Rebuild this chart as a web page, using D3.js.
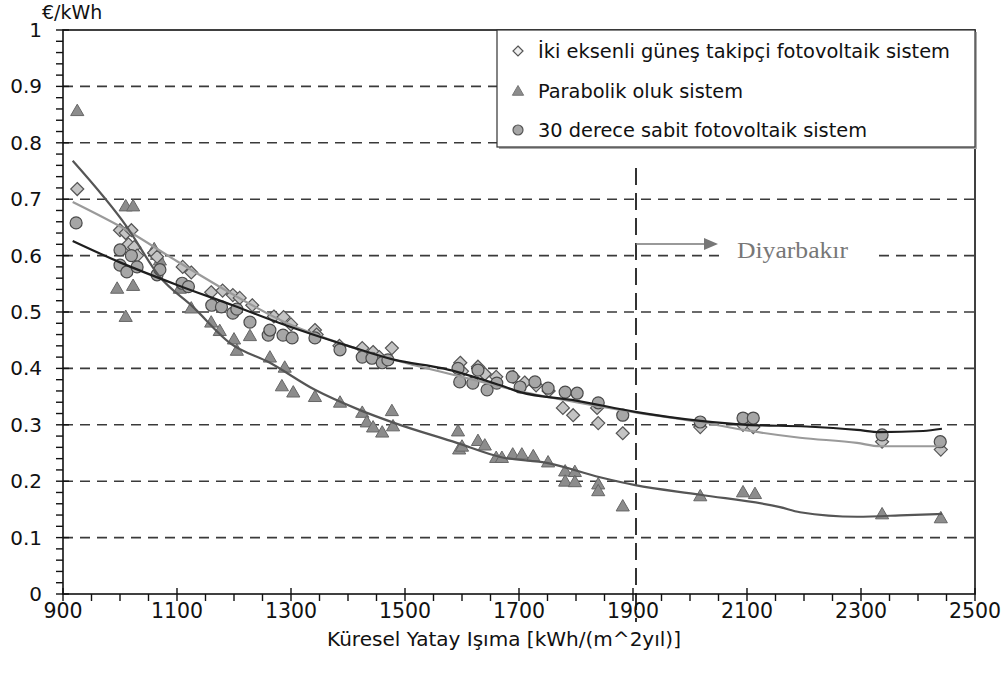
<!DOCTYPE html>
<html>
<head>
<meta charset="utf-8">
<script src="https://cdn.jsdelivr.net/npm/d3@7"></script>
<style>
  html, body { margin: 0; padding: 0; background: #fff; }
  svg { display: block; }
  text { font-family: "DejaVu Sans", Verdana, sans-serif; }
</style>
</head>
<body>
<svg id="chart" width="1006" height="686"></svg>
<script>
// ---------- DATA ----------
const seriesNames = [
  "İki eksenli güneş takipçi fotovoltaik sistem",
  "Parabolik oluk sistem",
  "30 derece sabit fotovoltaik sistem"
];
const xTicks = [900, 1100, 1300, 1500, 1700, 1900, 2100, 2300, 2500];
const yTicks = [0, 0.1, 0.2, 0.3, 0.4, 0.5, 0.6, 0.7, 0.8, 0.9, 1];
const yTickLabels = ["0", "0.1", "0.2", "0.3", "0.4", "0.5", "0.6", "0.7", "0.8", "0.9", "1"];

// İki eksenli (diamonds)
const diamondX = [925, 1000, 1010, 1020, 1015, 1025, 1030, 1060, 1065, 1110, 1125, 1160, 1180, 1198, 1210, 1232, 1270, 1287, 1300, 1342, 1345, 1385, 1425, 1444, 1455, 1477, 1597, 1600, 1628, 1640, 1660, 1690, 1710, 1730, 1752, 1777, 1795, 1837, 1839, 1882, 2018, 2093, 2111, 2337, 2440];
const diamondY = [0.718, 0.645, 0.64, 0.645, 0.62, 0.615, 0.6, 0.605, 0.598, 0.58, 0.57, 0.535, 0.538, 0.53, 0.525, 0.512, 0.492, 0.491, 0.478, 0.468, 0.46, 0.44, 0.436, 0.429, 0.42, 0.436, 0.41, 0.395, 0.403, 0.39, 0.385, 0.385, 0.375, 0.37, 0.36, 0.33, 0.317, 0.33, 0.303, 0.285, 0.296, 0.3, 0.296, 0.27, 0.256];

// Parabolik oluk (triangles)
const triX = [925, 1010, 1023, 995, 1023, 1010, 1060, 1065, 1070, 1105, 1125, 1160, 1175, 1200, 1205, 1228, 1263, 1284, 1289, 1304, 1342, 1386, 1425, 1433, 1444, 1460, 1477, 1479, 1593, 1595, 1600, 1628, 1640, 1660, 1670, 1689, 1705, 1725, 1751, 1781, 1781, 1798, 1798, 1839, 1839, 1882, 2018, 2093, 2114, 2337, 2440];
const triY = [0.855, 0.686, 0.686, 0.54, 0.545, 0.49, 0.61, 0.6, 0.59, 0.54, 0.505, 0.48, 0.465, 0.45, 0.43, 0.456, 0.418, 0.367, 0.4, 0.356, 0.348, 0.338, 0.32, 0.303, 0.294, 0.285, 0.323, 0.296, 0.287, 0.255, 0.26, 0.27, 0.262, 0.24, 0.24, 0.246, 0.246, 0.243, 0.232, 0.216, 0.198, 0.215, 0.197, 0.193, 0.181, 0.154, 0.172, 0.179, 0.176, 0.14, 0.133];

// 30 derece (circles)
const circX = [923, 1000, 1000, 1012, 1020, 1030, 1065, 1070, 1109, 1120, 1161, 1178, 1198, 1205, 1228, 1260, 1263, 1286, 1302, 1342, 1386, 1425, 1442, 1460, 1470, 1593, 1596, 1619, 1628, 1644, 1661, 1688, 1702, 1728, 1751, 1781, 1802, 1839, 1882, 2018, 2093, 2111, 2337, 2439];
const circY = [0.658, 0.61, 0.583, 0.571, 0.6, 0.58, 0.566, 0.575, 0.551, 0.545, 0.512, 0.509, 0.498, 0.505, 0.482, 0.459, 0.468, 0.459, 0.454, 0.454, 0.433, 0.42, 0.418, 0.41, 0.415, 0.4, 0.376, 0.374, 0.397, 0.362, 0.374, 0.385, 0.367, 0.376, 0.365, 0.358, 0.356, 0.339, 0.317, 0.305, 0.312, 0.312, 0.282, 0.27];

// Trend curves
const fitDiamondX = [917, 1012, 1100, 1200, 1281, 1400, 1500, 1600, 1700, 1800, 1904, 2018, 2100, 2193, 2293, 2333, 2442];
const fitDiamondY = [0.695, 0.645, 0.59, 0.53, 0.486, 0.44, 0.41, 0.385, 0.36, 0.34, 0.322, 0.305, 0.29, 0.277, 0.268, 0.262, 0.262];
const fitTriX = [917, 1012, 1070, 1128, 1193, 1263, 1342, 1421, 1482, 1591, 1667, 1751, 1842, 1904, 2018, 2158, 2193, 2293, 2381, 2442];
const fitTriY = [0.768, 0.651, 0.562, 0.509, 0.445, 0.41, 0.362, 0.326, 0.303, 0.268, 0.243, 0.232, 0.207, 0.193, 0.176, 0.154, 0.145, 0.137, 0.14, 0.142];
const fitCircX = [917, 1000, 1100, 1200, 1281, 1400, 1482, 1567, 1667, 1702, 1800, 1904, 2018, 2100, 2204, 2293, 2333, 2409, 2442];
const fitCircY = [0.626, 0.588, 0.548, 0.511, 0.48, 0.44, 0.415, 0.4, 0.37, 0.358, 0.343, 0.323, 0.307, 0.3, 0.297, 0.291, 0.287, 0.289, 0.293];

const markerX = 1900;
const annotation = "Diyarbakır";

// ---------- LAYOUT ----------
const svg = d3.select("#chart");
const L = 63, R = 975, T = 30, B = 594;
const x = d3.scaleLinear().domain([900, 2500]).range([L, R]);
const y = d3.scaleLinear().domain([0, 1]).range([B, T]);

// grid
svg.append("g").selectAll("line").data(yTicks.filter(v => v > 0 && v < 1)).join("line")
  .attr("x1", L).attr("x2", R).attr("y1", d => y(d)).attr("y2", d => y(d))
  .attr("stroke", "#3a3a3a").attr("stroke-width", 1.6).attr("stroke-dasharray", "10,7");

// white box behind annotation text
svg.append("rect").attr("x", 721).attr("y", 234).attr("width", 156).attr("height", 30).attr("fill", "#fff");

// vertical Diyarbakır line
svg.append("line").attr("x1", x(markerX) + 3).attr("x2", x(markerX) + 3)
  .attr("y1", 168).attr("y2", 622)
  .attr("stroke", "#333").attr("stroke-width", 2).attr("stroke-dasharray", "17,8");

// points
const pts = svg.append("g");
const triPath = d3.symbol().type(d3.symbolTriangle).size(75)();
const diaPath = "M0,-6.5L6.5,0L0,6.5L-6.5,0Z";
pts.selectAll(".tri").data(d3.range(triX.length)).join("path")
  .attr("transform", i => `translate(${x(triX[i])},${y(triY[i])})`)
  .attr("d", triPath).attr("fill", "#8c8c8c").attr("stroke", "#666").attr("stroke-width", 1);
pts.selectAll(".dia").data(d3.range(diamondX.length)).join("path")
  .attr("transform", i => `translate(${x(diamondX[i])},${y(diamondY[i])})`)
  .attr("d", diaPath).attr("fill", "#c4c4c4").attr("stroke", "#555").attr("stroke-width", 1.2);
pts.selectAll(".cir").data(d3.range(circX.length)).join("circle")
  .attr("cx", i => x(circX[i])).attr("cy", i => y(circY[i])).attr("r", 6)
  .attr("fill", "#a6a6a6").attr("stroke", "#4a4a4a").attr("stroke-width", 1.2);

// fit lines
const line = d3.line().curve(d3.curveMonotoneX);
function drawFit(xs, ys, color) {
  svg.append("path").attr("d", line(xs.map((v, i) => [x(v), y(ys[i])])))
    .attr("fill", "none").attr("stroke", color).attr("stroke-width", 2.2);
}
drawFit(fitDiamondX, fitDiamondY, "#9a9a9a");
drawFit(fitTriX, fitTriY, "#555");
drawFit(fitCircX, fitCircY, "#1e1e1e");

// frame
svg.append("rect").attr("x", L).attr("y", T).attr("width", R - L).attr("height", B - T)
  .attr("fill", "none").attr("stroke", "#111").attr("stroke-width", 1.6);

// x axis ticks
const xMinor = d3.range(900, 2501, 50);
svg.append("g").selectAll("line").data(xMinor).join("line")
  .attr("x1", d => x(d)).attr("x2", d => x(d))
  .attr("y1", d => d % 200 === 100 ? B - 6 : B).attr("y2", B + 7)
  .attr("stroke", "#111").attr("stroke-width", 1.4);
svg.append("g").selectAll("text").data(xTicks).join("text")
  .attr("x", d => x(d)).attr("y", 618).attr("text-anchor", "middle")
  .attr("font-size", 20.5).attr("fill", "#111").text(d => d);

// y axis ticks
const yMinor = d3.range(0, 51).map(i => i / 50);
svg.append("g").selectAll("line").data(yMinor).join("line")
  .attr("x1", L - 7).attr("x2", (d, i) => i % 5 === 0 ? L + 6 : L)
  .attr("y1", d => y(d)).attr("y2", d => y(d))
  .attr("stroke", "#111").attr("stroke-width", 1.4);
svg.append("g").selectAll("text").data(yTicks).join("text")
  .attr("x", 42).attr("y", d => y(d) + 7).attr("text-anchor", "end")
  .attr("font-size", 20).attr("fill", "#111").text((d, i) => yTickLabels[i]);

// axis titles
svg.append("text").attr("x", 42).attr("y", 19).attr("font-size", 19).attr("fill", "#111").text("€/kWh");
svg.append("text").attr("x", 504).attr("y", 646).attr("text-anchor", "middle")
  .attr("font-size", 20).attr("fill", "#111")
  .attr("textLength", 354).attr("lengthAdjust", "spacingAndGlyphs")
  .text("Küresel Yatay Işıma [kWh/(m^2yıl)]");

// annotation arrow
const ax = x(markerX) + 3, ay = 244;
svg.append("line").attr("x1", ax).attr("x2", 706).attr("y1", ay).attr("y2", ay)
  .attr("stroke", "#777").attr("stroke-width", 1.6);
svg.append("path").attr("d", `M704,${ay - 6}L718,${ay}L704,${ay + 6}Z`).attr("fill", "#777");
svg.append("text").attr("x", 737).attr("y", 258).attr("font-size", 23)
  .style("font-family", "'Liberation Serif', 'Times New Roman', serif")
  .attr("textLength", 111).attr("lengthAdjust", "spacingAndGlyphs")
  .attr("fill", "#777").text(annotation);

// legend
const lg = svg.append("g");
lg.append("rect").attr("x", 499).attr("y", 32).attr("width", 478).attr("height", 117).attr("fill", "#aaa");
lg.append("rect").attr("x", 497).attr("y", 30).attr("width", 478).attr("height", 117)
  .attr("fill", "#fff").attr("stroke", "#333").attr("stroke-width", 1.2);
const rowsY = [51, 91, 130];
const rowWidths = [412, 205, 329];
lg.append("path").attr("transform", `translate(518,${rowsY[0]})`).attr("d", "M0,-5L5,0L0,5L-5,0Z")
  .attr("fill", "#eee").attr("stroke", "#555").attr("stroke-width", 1.2);
lg.append("path").attr("transform", `translate(518,${rowsY[1] + 1})`).attr("d", d3.symbol().type(d3.symbolTriangle).size(55)())
  .attr("fill", "#8c8c8c").attr("stroke", "#777");
lg.append("circle").attr("cx", 518).attr("cy", rowsY[2]).attr("r", 5)
  .attr("fill", "#a6a6a6").attr("stroke", "#555").attr("stroke-width", 1.2);
lg.selectAll("text").data(seriesNames).join("text")
  .attr("x", 538).attr("y", (d, i) => rowsY[i] + 7).attr("font-size", 20).attr("fill", "#111")
  .attr("textLength", (d, i) => rowWidths[i]).attr("lengthAdjust", "spacingAndGlyphs")
  .text(d => d);
</script>
</body>
</html>
